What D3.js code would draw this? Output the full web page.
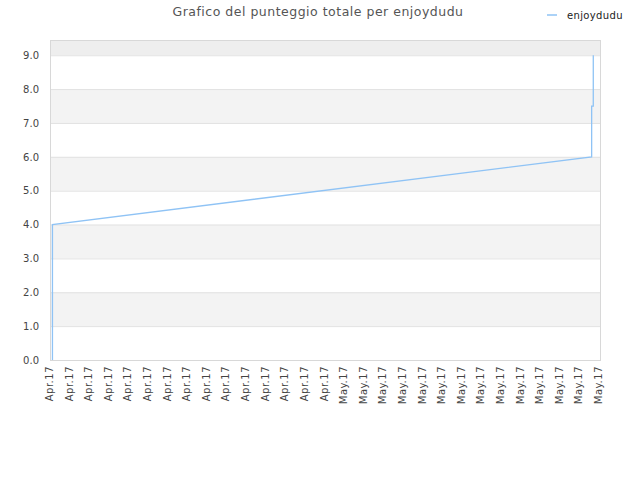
<!DOCTYPE html>
<html>
<head>
<meta charset="utf-8">
<script src="https://cdn.jsdelivr.net/npm/d3@7"></script>
<style>
  body { margin: 0; background: #fff; }
  text { font-family: "DejaVu Sans", sans-serif; }
</style>
</head>
<body>
<svg id="chart" width="640" height="480"></svg>
<script>
// series: timestamps and total score
const dates = ['2017-04-16T03:00', '2017-04-16T03:00', '2017-05-13T15:00', '2017-05-13T15:00', '2017-05-13T17:00', '2017-05-13T17:00']
const scores = [0, 4, 6, 7.5, 7.5, 9]
// y ticks and shaded bands
const yTicks = [0, 1, 2, 3, 4, 5, 6, 7, 8, 9]
const bands = [[1, 2], [3, 4], [5, 6], [7, 8]]
const yMax = 9.45
// x axis: one tick per day
const xStart = '2017-04-16'
const xEnd = '2017-05-14'
const seriesName = 'enjoydudu'
const title = 'Grafico del punteggio totale per enjoydudu'

const parse = d3.isoParse
const data = dates.map((d, i) => ({ date: parse(d), value: scores[i] }))

const plotL = 50, plotR = 600, plotT = 40, plotB = 360
const svg = d3.select('#chart')

const x = d3.scaleTime()
  .domain([parse(xStart), parse(xEnd)])
  .range([plotL, plotR - 1])

const y = d3.scaleLinear()
  .domain([0, yMax])
  .range([plotB, plotT])

// band above the last tick
svg.append('rect')
  .attr('x', plotL).attr('y', plotT)
  .attr('width', plotR - plotL).attr('height', y(9) - plotT)
  .attr('fill', '#eeeeee')

// alternating bands
svg.selectAll('.band')
  .data(bands)
  .enter()
  .append('rect')
  .attr('x', plotL)
  .attr('y', d => y(d[1]))
  .attr('width', plotR - plotL)
  .attr('height', d => y(d[0]) - y(d[1]))
  .attr('fill', '#f3f3f3')

// grid lines
svg.append('g')
  .attr('transform', `translate(${plotL},0)`)
  .call(d3.axisLeft(y).tickValues(yTicks).tickSize(-(plotR - plotL)).tickFormat(''))
  .call(g => g.select('.domain').remove())
  .call(g => g.selectAll('line').attr('stroke', '#e2e2e2'))

// frame
svg.append('rect')
  .attr('x', plotL + 0.5).attr('y', plotT + 0.5)
  .attr('width', plotR - plotL).attr('height', plotB - plotT)
  .attr('fill', 'none')
  .attr('stroke', '#d8d8d8')

// y labels
svg.append('g')
  .attr('transform', `translate(${plotL},0)`)
  .call(d3.axisLeft(y).tickValues(yTicks).tickSize(0).tickPadding(11).tickFormat(d3.format('.1f')))
  .call(g => g.select('.domain').remove())
  .call(g => g.selectAll('text').attr('fill', '#444').style('font-size', '10px').style('font-family', '"DejaVu Sans", sans-serif'))

// x labels
const monthFmt = d3.timeFormat('%b.%y')
svg.append('g')
  .attr('transform', `translate(0,${plotB})`)
  .call(d3.axisBottom(x).ticks(d3.timeDay.every(1)).tickSize(0).tickFormat(monthFmt))
  .call(g => g.select('.domain').remove())
  .call(g => g.selectAll('text')
    .attr('fill', '#444')
    .style('font-size', '10px')
    .style('letter-spacing', '0.5px')
    .style('font-family', '"DejaVu Sans", sans-serif')
    .attr('text-anchor', 'end')
    .attr('dy', '0.35em')
    .attr('transform', 'translate(-1,6) rotate(-90)')
    .attr('y', 0)
    .attr('x', 0))

// line
const line = d3.line()
  .x(d => x(d.date))
  .y(d => y(d.value))

svg.append('path')
  .datum(data)
  .attr('fill', 'none')
  .attr('stroke', '#8fc3f5')
  .attr('stroke-width', 1.3)
  .attr('d', line)

// title
svg.append('text')
  .attr('x', 318).attr('y', 16)
  .attr('text-anchor', 'middle')
  .attr('fill', '#555')
  .style('font-size', '12.5px')
  .style('letter-spacing', '0.5px')
  .text(title)

// legend
svg.append('line')
  .attr('x1', 547).attr('x2', 557)
  .attr('y1', 15).attr('y2', 15)
  .attr('stroke', '#8fc3f5')
  .attr('stroke-width', 1.5)
svg.append('text')
  .attr('x', 567).attr('y', 18.5)
  .attr('fill', '#222')
  .style('font-size', '10px')
  .style('letter-spacing', '0.35px')
  .text(seriesName)
</script>
</body>
</html>
